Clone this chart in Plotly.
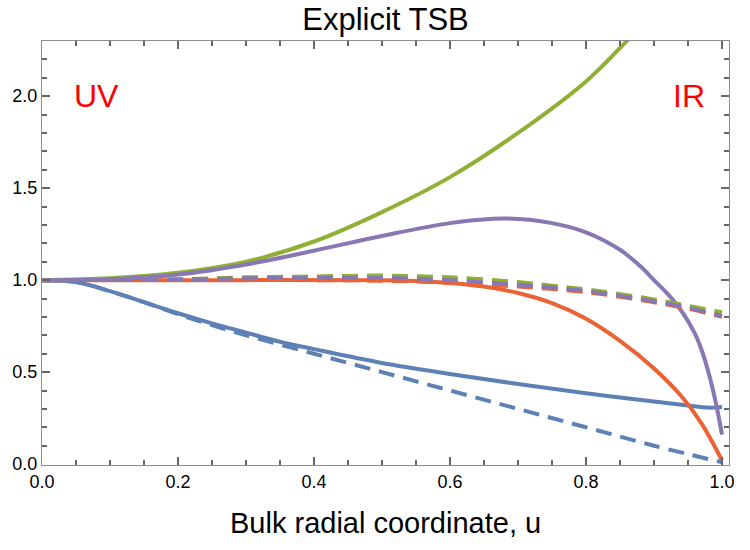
import plotly.graph_objects as go

# ---- data ----
u_blue = [0.0, 0.05, 0.1, 0.15, 0.2, 0.25, 0.3, 0.35, 0.4, 0.5, 0.6, 0.7, 0.8, 0.9, 0.95, 0.98, 1.0]
blue_solid = [1.0, 0.99, 0.94, 0.88, 0.82, 0.765, 0.715, 0.665, 0.625, 0.55, 0.49, 0.435, 0.385, 0.34, 0.318, 0.307, 0.31]

u_bd = [0.0, 0.05, 0.1, 0.15, 0.2, 0.25, 0.3, 0.4, 0.5, 0.6, 0.7, 0.8, 0.9, 1.0]
blue_dash = [1.0, 0.99, 0.94, 0.88, 0.815, 0.755, 0.70, 0.60, 0.50, 0.40, 0.30, 0.20, 0.10, 0.01]

u_or = [0.0, 0.3, 0.5, 0.55, 0.6, 0.65, 0.7, 0.75, 0.8, 0.85, 0.9, 0.94, 0.97, 1.0]
orange_solid = [1.0, 1.0, 1.0, 0.995, 0.985, 0.965, 0.93, 0.875, 0.79, 0.67, 0.52, 0.37, 0.22, 0.02]

u_od = [0.0, 0.4, 0.5, 0.6, 0.7, 0.8, 0.9, 0.95, 1.0]
orange_dash = [1.0, 1.0, 0.997, 0.985, 0.965, 0.935, 0.88, 0.845, 0.80]

u_gr = [0.0, 0.1, 0.2, 0.3, 0.4, 0.5, 0.6, 0.7, 0.8, 0.86, 0.9]
green_solid = [1.0, 1.01, 1.04, 1.10, 1.21, 1.37, 1.56, 1.80, 2.08, 2.30, 2.45]

u_gd = [0.0, 0.2, 0.3, 0.4, 0.5, 0.6, 0.7, 0.75, 0.8, 0.9, 0.95, 1.0]
green_dash = [1.0, 1.005, 1.015, 1.02, 1.025, 1.015, 0.99, 0.97, 0.95, 0.895, 0.86, 0.825]

u_pu = [0.0, 0.1, 0.2, 0.3, 0.4, 0.5, 0.6, 0.68, 0.75, 0.8, 0.85, 0.88, 0.9, 0.92, 0.94, 0.96, 0.97, 0.98, 0.99, 1.0]
purple_solid = [1.0, 1.005, 1.03, 1.085, 1.16, 1.24, 1.31, 1.335, 1.31, 1.26, 1.165, 1.075, 1.0, 0.925, 0.835, 0.71, 0.62, 0.50, 0.35, 0.16]

u_pd = [0.0, 0.2, 0.3, 0.4, 0.5, 0.6, 0.7, 0.75, 0.8, 0.9, 0.95, 1.0]
purple_dash = [1.0, 1.003, 1.01, 1.012, 1.012, 1.0, 0.975, 0.96, 0.94, 0.885, 0.85, 0.805]

BLUE = "#5E81B5"
ORANGE = "#EB6235"
GREEN = "#8FB032"
PURPLE = "#8778B3"
DASH = "16px,9px"
LW = 4

fig = go.Figure()

series = [
    (u_blue, blue_solid, BLUE, "solid"),
    (u_or, orange_solid, ORANGE, "solid"),
    (u_gr, green_solid, GREEN, "solid"),
    (u_pu, purple_solid, PURPLE, "solid"),
    (u_bd, blue_dash, BLUE, DASH),
    (u_od, orange_dash, ORANGE, DASH),
    (u_gd, green_dash, GREEN, DASH),
    (u_pd, purple_dash, PURPLE, DASH),
]
for xs, ys, col, dash in series:
    fig.add_trace(go.Scatter(x=xs, y=ys, mode="lines",
                             line=dict(color=col, width=LW, dash=dash, shape="spline", smoothing=1.0),
                             showlegend=False, hoverinfo="skip"))

FONT = "Liberation Sans, Arial, sans-serif"
TICKC = "#666666"
NOGRID = "rgba(0,0,0,0)"

fig.update_layout(
    template="none",
    width=750, height=550,
    margin=dict(l=42, r=21, t=41, b=85),
    font=dict(family=FONT, size=18, color="black"),
    title=dict(text="Explicit TSB", x=0.5, xref="paper", y=1 - 19 / 550, yref="container",
               yanchor="middle", xanchor="center",
               font=dict(family=FONT, size=31, color="black")),
    xaxis=dict(range=[0, 1.0103], dtick=0.2, tickformat=".1f",
               showline=True, linecolor="#8c8c8c", mirror="allticks",
               ticks="inside", ticklen=8, tickwidth=2, tickcolor=TICKC, gridcolor=NOGRID,
               minor=dict(dtick=0.05, ticks="inside", ticklen=5, tickwidth=1.5, tickcolor=TICKC)),
    yaxis=dict(range=[-0.005, 2.30], dtick=0.5, tickformat=".1f",
               showline=True, linecolor="#8c8c8c", mirror="allticks",
               ticks="inside", ticklen=8, tickwidth=2, tickcolor=TICKC, gridcolor=NOGRID,
               minor=dict(dtick=0.1, ticks="inside", ticklen=5, tickwidth=1.5, tickcolor=TICKC)),
    annotations=[
        dict(text="Bulk radial coordinate, u", xref="paper", yref="paper", x=0.5, y=-(523 - 465) / 424,
             xanchor="center", yanchor="middle", showarrow=False,
             font=dict(family=FONT, size=29, color="black")),
        dict(text="UV", x=0.08, y=2.0, xref="x", yref="y", showarrow=False,
             xanchor="center", yanchor="middle", font=dict(family=FONT, size=32, color="red")),
        dict(text="IR", x=0.951, y=2.0, xref="x", yref="y", showarrow=False,
             xanchor="center", yanchor="middle", font=dict(family=FONT, size=32, color="red")),
    ],
)

fig.write_html("out.html")
